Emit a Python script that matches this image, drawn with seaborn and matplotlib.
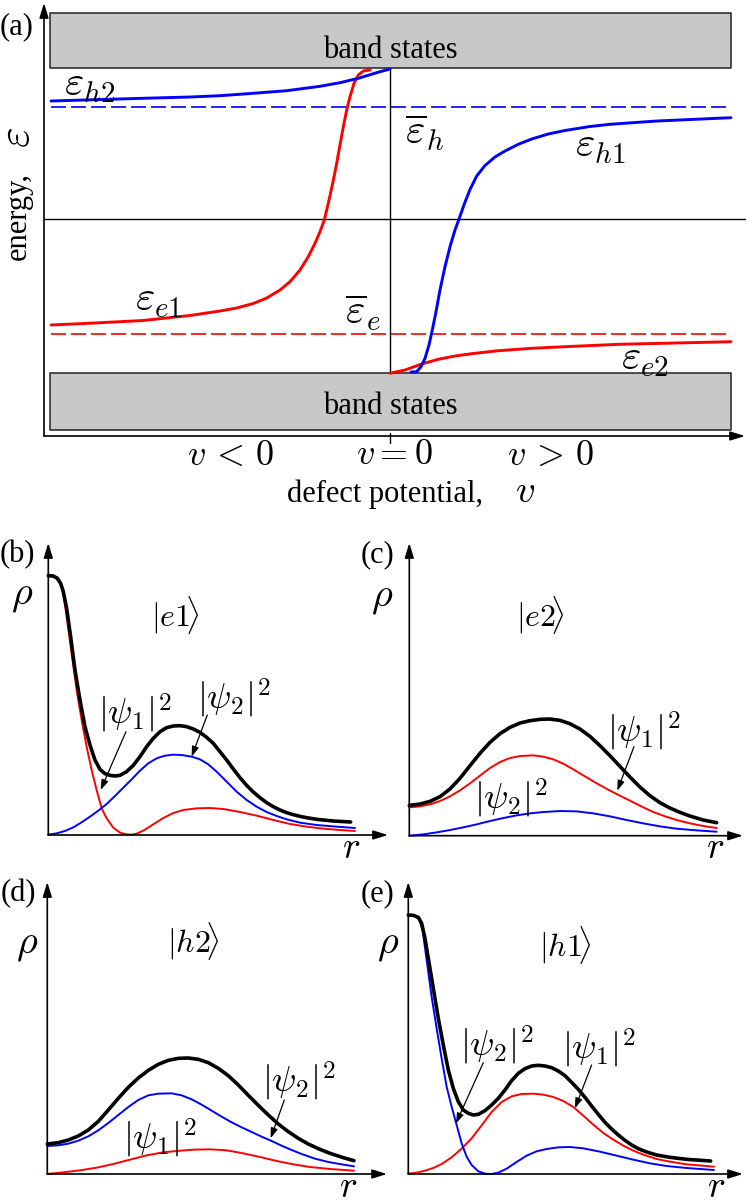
import matplotlib
matplotlib.use('Agg')
import matplotlib.pyplot as plt
import seaborn as sns

W, H = 747, 1202

# (a) energy levels against defect potential
h2_v = [-339, -295, -247, -200, -170, -136.7, -103.3, -70, -50, -31.7, -10, 0]
h2_eps = [118, 119.3, 120.7, 122, 123.3, 125.7, 128.3, 132.7, 136.3, 140.7, 147.3, 150]
h1_v = [21, 26.7, 31, 35, 39, 42.3, 45.7, 50, 55, 60, 65, 69.3, 74.3, 80, 86.7, 95, 105, 115, 128.3, 141.7, 158.3, 175, 200, 220, 267, 341]
h1_eps = [-153, -152.7, -147.7, -139.3, -126, -111, -94.3, -71, -47.7, -27.7, -11, 0.7, 15, 29.5, 43, 53.5, 62, 68, 74.7, 80, 85, 88.5, 92.5, 94.7, 98, 101.3]
e1_v = [-339, -295, -247, -200, -170, -153.3, -136.7, -123.3, -110, -100, -90, -81.7, -75, -70, -65.7, -61.7, -57.3, -53.3, -50, -46.7, -43.3, -40, -36, -31.7, -26.7, -20]
e1_eps = [-106, -104, -101.5, -96.5, -92, -89, -84.5, -79, -71, -62.7, -51, -37.7, -24.3, -12.7, -1, 15.7, 35.7, 55.7, 74, 92.3, 109, 122.3, 135.7, 144, 148, 149]
e2_v = [0, 15, 31.7, 48.3, 65, 81.7, 108.3, 141.7, 175, 229, 286, 341]
e2_eps = [-154.3, -151, -145, -140.3, -137, -134.7, -131.7, -129.3, -127.7, -125.3, -124, -122.7]
mean_v = [-339, 341]
mean_h = [112, 112]
mean_e = [-115, -115]
band_v = [-340, 341]
upper_band = (151, 206)
lower_band = (-211, -154)

# (b) |e1>
b_black_r = [0, 15, 27, 37, 45, 55, 67, 80, 95, 110, 125, 140, 155, 170, 185, 200, 215, 235, 255, 275, 295, 315, 335, 355, 375, 395, 415, 435, 455, 475, 495, 515, 535, 555, 575, 595, 615, 635, 655, 675, 695, 715, 735, 755, 775, 805, 855, 907]
b_black_rho = [778, 777, 770, 755, 730, 680, 595, 495, 405, 325, 270, 225, 197, 184, 179, 177, 179, 190, 209, 235, 265, 290, 310, 322, 327, 328, 325, 318, 308, 293, 275, 250, 225, 198, 172, 149, 129, 112, 97, 85, 75, 67, 61, 56, 52, 47, 42, 39]
b_red_r = [0, 27, 37, 45, 55, 70, 85, 100, 115, 130, 145, 160, 175, 195, 215, 235, 250, 265, 285, 315, 345, 375, 405, 445, 485, 525, 575, 625, 675, 725, 775, 825, 875, 920]
b_red_rho = [778, 773, 755, 725, 655, 545, 435, 345, 265, 195, 135, 80, 50, 22, 7, 2, 1, 4, 13, 32, 51, 66, 75, 80, 81, 78, 69, 58, 45, 33, 25, 19, 15, 12]
b_blue_r = [0, 25, 50, 75, 100, 125, 150, 175, 200, 225, 250, 275, 300, 325, 350, 375, 400, 430, 455, 480, 505, 535, 565, 595, 625, 655, 685, 715, 755, 805, 865, 920]
b_blue_rho = [1, 5, 12, 23, 38, 55, 73, 93, 117, 142, 167, 193, 215, 230, 238, 241, 240, 235, 227, 212, 190, 160, 130, 105, 85, 69, 57, 47, 37, 30, 25, 21]

# (c) |e2>
c_black_r = [0, 32, 62, 92, 122, 152, 182, 212, 242, 272, 302, 332, 362, 392, 422, 452, 482, 512, 542, 572, 602, 632, 662, 692, 722, 752, 782, 812, 842, 882, 922]
c_black_rho = [91, 95, 103, 117, 140, 172, 210, 247, 280, 306, 325, 338, 345, 349, 350, 346, 336, 320, 298, 270, 240, 208, 176, 146, 120, 99, 83, 70, 59, 47, 39]
c_red_r = [0, 32, 62, 92, 122, 152, 182, 212, 242, 272, 302, 332, 372, 402, 432, 462, 492, 522, 552, 582, 612, 642, 672, 702, 732, 762, 802, 842, 882, 922]
c_red_rho = [85, 88, 94, 104, 118, 136, 157, 180, 203, 221, 233, 239, 241, 237, 229, 216, 199, 181, 163, 146, 130, 115, 100, 85, 71, 60, 47, 37, 29, 23]
c_blue_r = [0, 42, 82, 122, 162, 202, 242, 282, 322, 362, 402, 452, 502, 552, 602, 652, 702, 752, 802, 862, 922]
c_blue_rho = [0, 4, 10, 17, 25, 34, 44, 53, 61, 67, 71, 74, 73, 67, 58, 47, 37, 28, 21, 16, 12]

# (d) |h2>
d_black_r = [0, 33, 63, 93, 123, 153, 183, 213, 243, 273, 303, 333, 363, 393, 423, 453, 483, 513, 543, 573, 603, 633, 663, 693, 723, 753, 783, 813, 848, 888, 920]
d_black_rho = [90, 94, 102, 114, 132, 158, 192, 227, 260, 288, 311, 329, 341, 347, 348, 344, 334, 317, 295, 267, 236, 206, 177, 150, 127, 107, 90, 76, 62, 49, 40]
d_blue_r = [0, 33, 63, 93, 123, 153, 183, 213, 243, 273, 303, 333, 373, 403, 433, 463, 493, 523, 553, 583, 613, 643, 673, 703, 733, 763, 803, 843, 883, 920]
d_blue_rho = [84, 86, 91, 100, 113, 131, 153, 177, 201, 222, 236, 241, 242, 236, 224, 208, 190, 172, 155, 140, 126, 112, 99, 85, 72, 60, 46, 36, 29, 23]
d_red_r = [0, 48, 98, 148, 198, 248, 298, 348, 388, 438, 488, 538, 588, 638, 688, 738, 788, 848, 920]
d_red_rho = [0, 5, 11, 19, 30, 43, 56, 65, 69, 73, 74, 71, 62, 51, 39, 29, 21, 15, 10]

# (e) |h1>
e_black_r = [0, 15, 30, 40, 50, 60, 75, 90, 105, 120, 135, 150, 165, 180, 195, 210, 230, 250, 270, 290, 310, 330, 350, 370, 390, 410, 430, 450, 470, 490, 510, 530, 550, 570, 590, 610, 630, 650, 670, 690, 715, 745, 785, 835, 907]
e_black_rho = [777, 776, 770, 752, 707, 647, 557, 467, 387, 312, 257, 217, 192, 182, 177, 179, 190, 207, 227, 252, 280, 302, 316, 324, 326, 324, 319, 309, 295, 275, 254, 230, 204, 179, 155, 135, 117, 101, 87, 76, 66, 57, 50, 44, 39]
e_blue_r = [0, 20, 33, 43, 55, 70, 85, 100, 115, 130, 145, 160, 175, 190, 210, 230, 250, 270, 295, 325, 355, 385, 415, 450, 485, 525, 575, 625, 675, 725, 775, 835, 917]
e_blue_rho = [777, 775, 764, 732, 642, 532, 437, 347, 262, 202, 147, 92, 52, 27, 8, 1, 0, 4, 16, 36, 55, 68, 75, 80, 81, 77, 67, 55, 43, 32, 24, 18, 12]
e_red_r = [0, 25, 50, 75, 100, 130, 160, 190, 220, 250, 280, 310, 340, 375, 405, 435, 465, 495, 525, 555, 585, 615, 645, 675, 705, 745, 785, 835, 917]
e_red_rho = [1, 4, 10, 18, 30, 50, 76, 107, 146, 186, 216, 233, 240, 241, 238, 231, 219, 201, 175, 148, 123, 103, 85, 70, 58, 45, 37, 29, 22]

sns.set_theme(style='white')
plt.rcParams['font.family'] = ['Liberation Serif', 'DejaVu Serif']
plt.rcParams['mathtext.fontset'] = 'cm'


def make_axes(fig, left, top, right, bottom):
    ax = fig.add_axes([left / W, 1 - bottom / H, (right - left) / W, (bottom - top) / H])
    ax.patch.set_alpha(0)
    ax.set_xticks([])
    ax.set_yticks([])
    sns.despine(ax=ax, left=True, bottom=True)
    for tip in [(1, 0), (0, 1)]:
        ax.annotate('', xy=tip, xytext=(0, 0), xycoords='axes fraction', textcoords='axes fraction',
                    arrowprops=dict(arrowstyle='-|>,head_width=0.17,head_length=0.55', color='black',
                                    lw=1.2, shrinkA=0, shrinkB=0, mutation_scale=16))
    return ax


def curve(ax, x, y, color, lw, **kw):
    line = sns.lineplot(x=x, y=y, ax=ax, color=color, lw=lw, estimator=None, sort=False, legend=False, **kw)
    for ln in line.lines:
        ln.set_clip_on(False)
        ln.set_solid_joinstyle('round')


def fig_text(fig, x, y, s, size=22, **kw):
    fig.text(x / W, 1 - y / H, s, fontsize=size, ha='center', va='center', color='black', **kw)


def density_panel(fig, box, label, curves, texts, arrows, r_pos):
    ax = make_axes(fig, *box)
    ax.set_xlim(0, (box[2] - box[0]) * 3)
    ax.set_ylim(0, (box[3] - box[1]) * 3)
    for x, y, color, lw in curves:
        curve(ax, x, y, color, lw)
    for x, y, s, size in texts:
        ax.text(x, y, s, fontsize=size, ha='center', va='center', color='black')
    # r sits close to the bottom edge, so place it by its baseline
    ax.text(r_pos[0], r_pos[1], r'$r$', fontsize=27, ha='center', va='baseline', color='black')
    for start, end in arrows:
        ax.annotate('', xy=end, xytext=start,
                    arrowprops=dict(arrowstyle='-|>,head_width=0.13,head_length=0.38', color='black',
                                    lw=0.9, shrinkA=0, shrinkB=0, mutation_scale=16))
    fig_text(fig, label[0], label[1], label[2])


fig = plt.figure(figsize=(W / 100, H / 100), dpi=100)

# panel (a)
ax = make_axes(fig, 44, 3, 745, 436)
ax.set_xlim(-346, 355)
ax.set_ylim(-217, 216)
for band in (upper_band, lower_band):
    ax.fill_between(band_v, band[0], band[1], facecolor='#c8c8c8', edgecolor='#222222', lw=1.1)
ax.plot([-346, 355], [0, 0], color='black', lw=1.0)
ax.plot([0, 0], [-154, 151], color='black', lw=1.0)
ax.plot([0, 0], [-224, -214], color='black', lw=1.0, clip_on=False)
curve(ax, mean_v, mean_h, 'blue', 1.2, linestyle=(0, (9, 3)))
curve(ax, mean_v, mean_e, 'red', 1.2, linestyle=(0, (9, 3)))
curve(ax, e1_v, e1_eps, 'red', 2.1)
curve(ax, e2_v, e2_eps, 'red', 2.1)
curve(ax, h2_v, h2_eps, 'blue', 2.1)
curve(ax, h1_v, h1_eps, 'blue', 2.1)

fig_text(fig, 390, 50, 'band states')
fig_text(fig, 390, 407, 'band states')
fig_text(fig, 90, 86, r'$\varepsilon_{h2}$', 30)
fig_text(fig, 600, 147, r'$\varepsilon_{h1}$', 30)
fig_text(fig, 159, 301, r'$\varepsilon_{e1}$', 30)
fig_text(fig, 645, 360, r'$\varepsilon_{e2}$', 30)
fig_text(fig, 425, 133, r'$\overline{\varepsilon}_{h}$', 30)
fig_text(fig, 363, 313, r'$\overline{\varepsilon}_{e}$', 30)
fig_text(fig, 231, 456, r'$v\,<\,0$', 26)
fig_text(fig, 394, 456, r'$v=0$', 26)
fig_text(fig, 551, 456, r'$v\,>\,0$', 26)
fig_text(fig, 385, 494, 'defect potential,')
fig_text(fig, 525, 492, r'$v$', 28)
fig_text(fig, 18, 216, 'energy,', rotation=90)
fig_text(fig, 18, 138, r'$\varepsilon$', 32, rotation=90)
fig_text(fig, 17, 27, '(a)')

BLACK_LW, THIN_LW = 2.6, 1.4

density_panel(
    fig, (48.3, 543, 388, 835), (17.5, 555, '(b)'),
    [(b_red_r, b_red_rho, 'red', THIN_LW), (b_blue_r, b_blue_rho, 'blue', THIN_LW),
     (b_black_r, b_black_rho, 'black', BLACK_LW)],
    [(-80, 715, r'$\rho$', 29), (382, 660, r'$|e1\!\rangle$', 23), (260, 365, r'$|\psi_1|^2$', 26),
     (555, 410, r'$|\psi_2|^2$', 26)],
    [((233, 310), (157, 135)), ((477, 360), (430, 235))], (908, -68))

density_panel(
    fig, (409.3, 543, 743, 835.7), (378, 555, '(c)'),
    [(c_blue_r, c_blue_rho, 'blue', THIN_LW), (c_red_r, c_red_rho, 'red', THIN_LW),
     (c_black_r, c_black_rho, 'black', BLACK_LW)],
    [(-81, 712, r'$\rho$', 29), (392, 662, r'$|e2\!\rangle$', 23), (702, 312, r'$|\psi_1|^2$', 26),
     (304, 112, r'$|\psi_2|^2$', 26)],
    [((674, 267), (624, 135))], (919, -68))

density_panel(
    fig, (47.3, 882, 387, 1174), (18, 894, '(d)'),
    [(d_red_r, d_red_rho, 'red', THIN_LW), (d_blue_r, d_blue_rho, 'blue', THIN_LW),
     (d_black_r, d_black_rho, 'black', BLACK_LW)],
    [(-62, 687, r'$\rho$', 29), (438, 697, r'$|h2\!\rangle$', 23), (753, 277, r'$|\psi_2|^2$', 26),
     (336, 107, r'$|\psi_1|^2$', 26)],
    [((711, 222), (670, 107))], (903, -70))

density_panel(
    fig, (408.3, 882, 743, 1174), (378, 894, '(e)'),
    [(e_red_r, e_red_rho, 'red', THIN_LW), (e_blue_r, e_blue_rho, 'blue', THIN_LW),
     (e_black_r, e_black_rho, 'black', BLACK_LW)],
    [(-60, 687, r'$\rho$', 29), (470, 687, r'$|h1\!\rangle$', 23), (265, 387, r'$|\psi_2|^2$', 26),
     (570, 377, r'$|\psi_1|^2$', 26)],
    [((225, 334), (143, 152)), ((550, 327), (500, 197))], (925, -70))

fig.savefig('out.png', dpi=100)
